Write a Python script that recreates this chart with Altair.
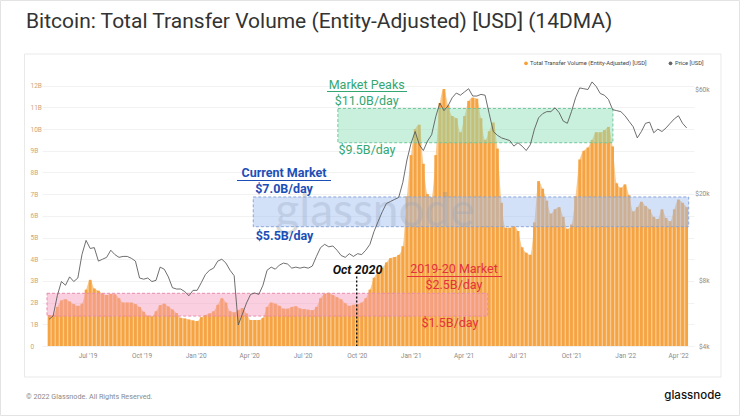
import altair as alt
import pandas as pd

# ---------------- data ----------------
week_start = "2019-04-23"
n_weeks = 156

# Total Transfer Volume (Entity-Adjusted), USD billions per day (14DMA), weekly samples
volume_b = [1.43, 1.43, 1.8, 2.1, 2.15, 2.05, 1.93, 1.85, 1.95, 2.6,
            3.05, 2.65, 2.55, 2.42, 2.35, 2.4, 2.38, 2.2, 2.0, 2.0,
            2.0, 1.93, 1.8, 1.58, 1.4, 1.37, 1.6, 1.88, 1.95, 1.82,
            1.68, 1.52, 1.3, 1.27, 1.22, 1.18, 1.15, 1.33, 1.43, 1.5,
            1.6, 1.9, 2.2, 2.0, 1.6, 1.55, 1.65, 1.75, 1.5, 1.2,
            1.2, 1.2, 1.3, 1.8, 2.0, 1.95, 1.85, 1.72, 1.72, 1.8,
            1.83, 1.73, 1.7, 1.67, 1.65, 1.8, 2.2, 2.4, 2.45, 2.35,
            2.25, 2.15, 1.97, 1.85, 1.9, 1.93, 2.0, 2.2, 2.6, 3.15,
            3.4, 3.6, 3.85, 4.05, 4.1, 4.2, 4.6, 6.9, 8.8, 10.0,
            10.2, 8.4, 7.0, 6.85, 8.8, 11.2, 11.85, 11.1, 10.6, 10.5,
            9.85, 10.6, 11.3, 11.45, 11.4, 10.5, 9.5, 9.9, 10.3, 9.1,
            6.6, 5.45, 5.45, 5.52, 5.3, 4.55, 4.3, 4.2, 5.7, 7.6,
            7.25, 6.7, 6.1, 6.3, 6.4, 5.95, 5.4, 5.6, 6.9, 8.6,
            9.0, 9.15, 9.5, 9.85, 9.85, 9.95, 10.1, 9.2, 7.5, 7.3,
            7.45, 6.95, 6.2, 6.4, 6.65, 6.45, 6.3, 5.95, 5.85, 6.3,
            5.9, 5.75, 6.3, 6.75, 6.6, 6.4]

# Price [USD], thousands, weekly samples
price_k = [5.3, 5.5, 6.8, 7.9, 7.6, 8.3, 7.9, 8.2, 10.5, 12.2,
           11.2, 11.3, 9.8, 10.0, 10.2, 11.0, 10.5, 10.2, 10.3, 10.3,
           10.1, 9.8, 8.2, 8.1, 8.2, 7.9, 8.0, 9.2, 9.0, 8.3,
           7.4, 7.3, 7.3, 7.1, 6.8, 7.2, 7.2, 7.8, 8.5, 8.9,
           9.1, 9.8, 10.0, 9.6, 8.9, 8.4, 5.0, 5.6, 6.3, 6.9,
           7.0, 6.9, 7.6, 8.9, 9.2, 9.0, 9.4, 9.6, 9.5, 9.1,
           9.2, 9.1, 9.2, 9.1, 9.3, 10.3, 11.3, 11.7, 11.4, 11.5,
           11.0, 10.4, 10.2, 10.6, 10.3, 10.6, 10.5, 11.0, 11.7, 13.4,
           14.9, 16.5, 18.0, 18.4, 18.8, 19.2, 22.5, 28.5, 34.0, 38.5,
           33.5, 31.5, 34.8, 37.2, 45.0, 52.0, 48.0, 50.5, 55.0, 57.8,
           56.5, 58.5, 60.5, 56.0, 56.0, 57.0, 56.5, 46.5, 38.5, 37.0,
           36.0, 35.5, 35.0, 33.0, 34.2, 33.0, 31.5, 33.5, 39.5, 44.5,
           46.5, 47.5, 47.5, 49.5, 47.0, 43.0, 42.0, 47.5, 55.0, 61.0,
           60.5, 60.0, 65.0, 62.0, 57.5, 56.5, 54.0, 48.5, 48.0, 47.5,
           45.5, 42.9, 40.5, 36.0, 38.5, 42.0, 42.5, 38.0, 39.5, 38.5,
           40.0, 42.0, 44.0, 45.5, 42.0, 40.0]

band_names = ["2019-20 Market", "Current Market", "Market Peaks"]
band_start = ["2019-04-23", "2020-04-08", "2020-08-30"]
band_end = ["2021-05-12", "2022-04-19", "2021-12-11"]
band_low = [1.38, 5.5, 9.37]
band_high = [2.43, 6.87, 10.95]

marker_date = ["2020-10-01"]
marker_top = [3.2]

tick_dates = ["2019-07-01", "2019-10-01", "2020-01-01", "2020-04-01", "2020-07-01",
              "2020-10-01", "2021-01-01", "2021-04-01", "2021-07-01", "2021-10-01",
              "2022-01-01", "2022-04-01"]
vol_ticks = list(range(13))
price_ticks = [4, 8, 20, 60]

# ---------------- frames ----------------
dates = pd.date_range(week_start, periods=n_weeks, freq="7D") + pd.Timedelta(hours=84)
df = pd.DataFrame({"date": dates.strftime("%Y-%m-%dT%H:%M:%S"),
                   "volume": volume_b, "price": price_k})
bands = pd.DataFrame({"name": band_names, "start": band_start, "end": band_end,
                      "low": band_low, "high": band_high})
marker = pd.DataFrame({"date": marker_date, "top": marker_top, "bottom": [0]})

FONT = "Roboto"
x_dom = [alt.DateTime(year=2019, month=4, date=23),
         alt.DateTime(year=2022, month=4, date=19, hours=12)]
x_vals = [alt.DateTime(year=int(d[:4]), month=int(d[5:7]), date=1) for d in tick_dates]

x_axis = alt.Axis(values=x_vals, format="%b '%y", title=None, grid=False,
                  ticks=False, domain=False, labelFontSize=6.5,
                  labelColor="#8a8a8a", labelPadding=6, labelFlush=False,
                  labelOverlap=False, labelFont=FONT)
x_scale = alt.Scale(domain=x_dom)
x_enc = alt.X("date:T", scale=x_scale, axis=x_axis)

vol_axis = alt.Axis(values=vol_ticks, orient="left", title=None,
                    labelExpr="datum.value == 0 ? '0' : datum.value + 'B'",
                    labelAlign="left", labelPadding=12, labelFontSize=6.5,
                    labelColor="#cda57a", ticks=False, domain=False,
                    labelOverlap=False, labelFlush=False,
                    grid=True, gridColor="#efefef", gridWidth=0.8,
                    labelFont=FONT)
vol_scale = alt.Scale(domain=[0, 12.447], nice=False, zero=True)
y_vol = alt.Y("volume:Q", scale=vol_scale, axis=vol_axis)

ONE = alt.Data(values=[{}])


def text(t, x, y, color, size=12.5, weight="normal", style="normal", align="center",
         font=FONT, opacity=1.0, baseline="middle"):
    return alt.Chart(ONE).mark_text(
        text=t, color=color, fontSize=size, fontWeight=weight, fontStyle=style,
        align=align, baseline=baseline, font=font, opacity=opacity
    ).encode(x=alt.value(x), y=alt.value(y))


def hline(x1, x2, y, color, width=1.0):
    return alt.Chart(ONE).mark_rule(color=color, strokeWidth=width).encode(
        x=alt.value(x1), x2=alt.value(x2), y=alt.value(y))


card = alt.Chart(ONE).mark_rect(fill=None, stroke="#e9e9e9", strokeWidth=1).encode(
    x=alt.value(-17.5), x2=alt.value(679), y=alt.value(-22), y2=alt.value(301))
frame = alt.Chart(ONE).mark_rect(fill=None, stroke="#e3e3e3", strokeWidth=1).encode(
    x=alt.value(-41.5), x2=alt.value(697.5), y=alt.value(-75.5), y2=alt.value(339.5))

base = alt.Chart(df)
vol_area = base.mark_area(color="#f9cb90", interpolate="monotone").encode(x=x_enc, y=y_vol)
vol_bars = base.mark_bar(color="#f6a443", width=2.8).encode(x=x_enc, y=y_vol)

watermark = text("glassnode", 333, 136, "#8c8c8c", size=46, font="Lato", opacity=0.3)

band_layer = alt.Chart(bands).mark_rect(strokeDash=[3, 2], strokeWidth=1, fillOpacity=0.47).encode(
    x=alt.X("start:T", scale=x_scale, axis=x_axis), x2="end:T",
    y=alt.Y("low:Q", scale=vol_scale, axis=vol_axis), y2="high:Q",
    fill=alt.Fill("name:N", legend=None,
                  scale=alt.Scale(domain=band_names, range=["#f59aba", "#9fbdf0", "#8ddcb6"])),
    stroke=alt.Stroke("name:N", legend=None,
                      scale=alt.Scale(domain=band_names, range=["#e98bac", "#8aa6d8", "#72c79d"])),
)

marker_rule = alt.Chart(marker).mark_rule(color="#111", strokeWidth=1.4, strokeDash=[2, 2]).encode(
    x=alt.X("date:T", scale=x_scale, axis=x_axis),
    y=alt.Y("top:Q", scale=vol_scale, axis=vol_axis), y2="bottom:Q")

vol_layer = alt.layer(vol_area, vol_bars, watermark, band_layer, marker_rule)

price_line = base.mark_line(color="#555555", strokeWidth=0.85).encode(
    x=x_enc,
    y=alt.Y("price:Q",
            scale=alt.Scale(type="log", domain=[4, 69.2], nice=False, zero=False),
            axis=alt.Axis(values=price_ticks, orient="right", title=None,
                          labelExpr="'$' + datum.value + 'k'", labelAlign="right",
                          labelPadding=15, labelFontSize=6.5, labelColor="#8a8a8a",
                          labelOverlap=False, labelFlush=False,
                          ticks=False, domain=False, grid=False, labelFont=FONT)))

GREEN, BLUE, RED = "#33a772", "#1c4fb6", "#e2323c"
annotations = [
    text("Market Peaks", 324.7, 9, GREEN),
    hline(285, 365, 15.5, GREEN),
    text("$11.0B/day", 324.7, 25, GREEN),
    text("$9.5B/day", 325, 74, GREEN),
    text("Current Market", 242, 97, BLUE, weight="bold"),
    hline(195, 289, 104.5, BLUE, 1.2),
    text("$7.0B/day", 242, 112.5, BLUE, weight="bold"),
    text("$5.5B/day", 242.5, 160, BLUE, weight="bold"),
    text("Oct 2020", 315.5, 193.5, "#111", weight="bold", style="italic"),
    text("2019-20 Market", 412, 193, RED),
    hline(365, 460, 200.5, RED),
    text("$2.5B/day", 412, 209, RED),
    text("$1.5B/day", 408, 247, RED),
]

chrome = [
    text("Bitcoin: Total Transfer Volume (Entity-Adjusted) [USD] (14DMA)", -16, -54,
         "#333333", size=21, align="left"),
    alt.Chart(ONE).mark_point(filled=True, size=14, color="#f7a035", opacity=1).encode(
        x=alt.value(484), y=alt.value(-12.7)),
    text("Total Transfer Volume (Entity-Adjusted) [USD]", 488, -12.7, "#444", size=5.8,
         align="left"),
    alt.Chart(ONE).mark_point(filled=True, size=14, color="#666", opacity=1).encode(
        x=alt.value(628.5), y=alt.value(-12.7)),
    text("Price [USD]", 633, -12.7, "#444", size=5.8, align="left"),
    text("\u00a9 2022 Glassnode. All Rights Reserved.", -16, 321, "#8a8a8a", size=7.2,
         align="left"),
    text("glassnode", 679, 320, "#111", size=11.5, align="right", font="Inter", weight=500),
]

chart = alt.layer(
    frame, card, vol_layer, price_line, *annotations, *chrome
).resolve_scale(
    y="independent"
).properties(
    width=652, height=270,
    autosize=alt.AutoSizeParams(type="none"),
    padding={"left": 42, "top": 76, "right": 46, "bottom": 70},
    background="white",
).configure_view(
    stroke=None
).configure_axis(
    labelOverlap=False
)

chart.save("out.html", embed_options={"renderer": "svg", "actions": False})
